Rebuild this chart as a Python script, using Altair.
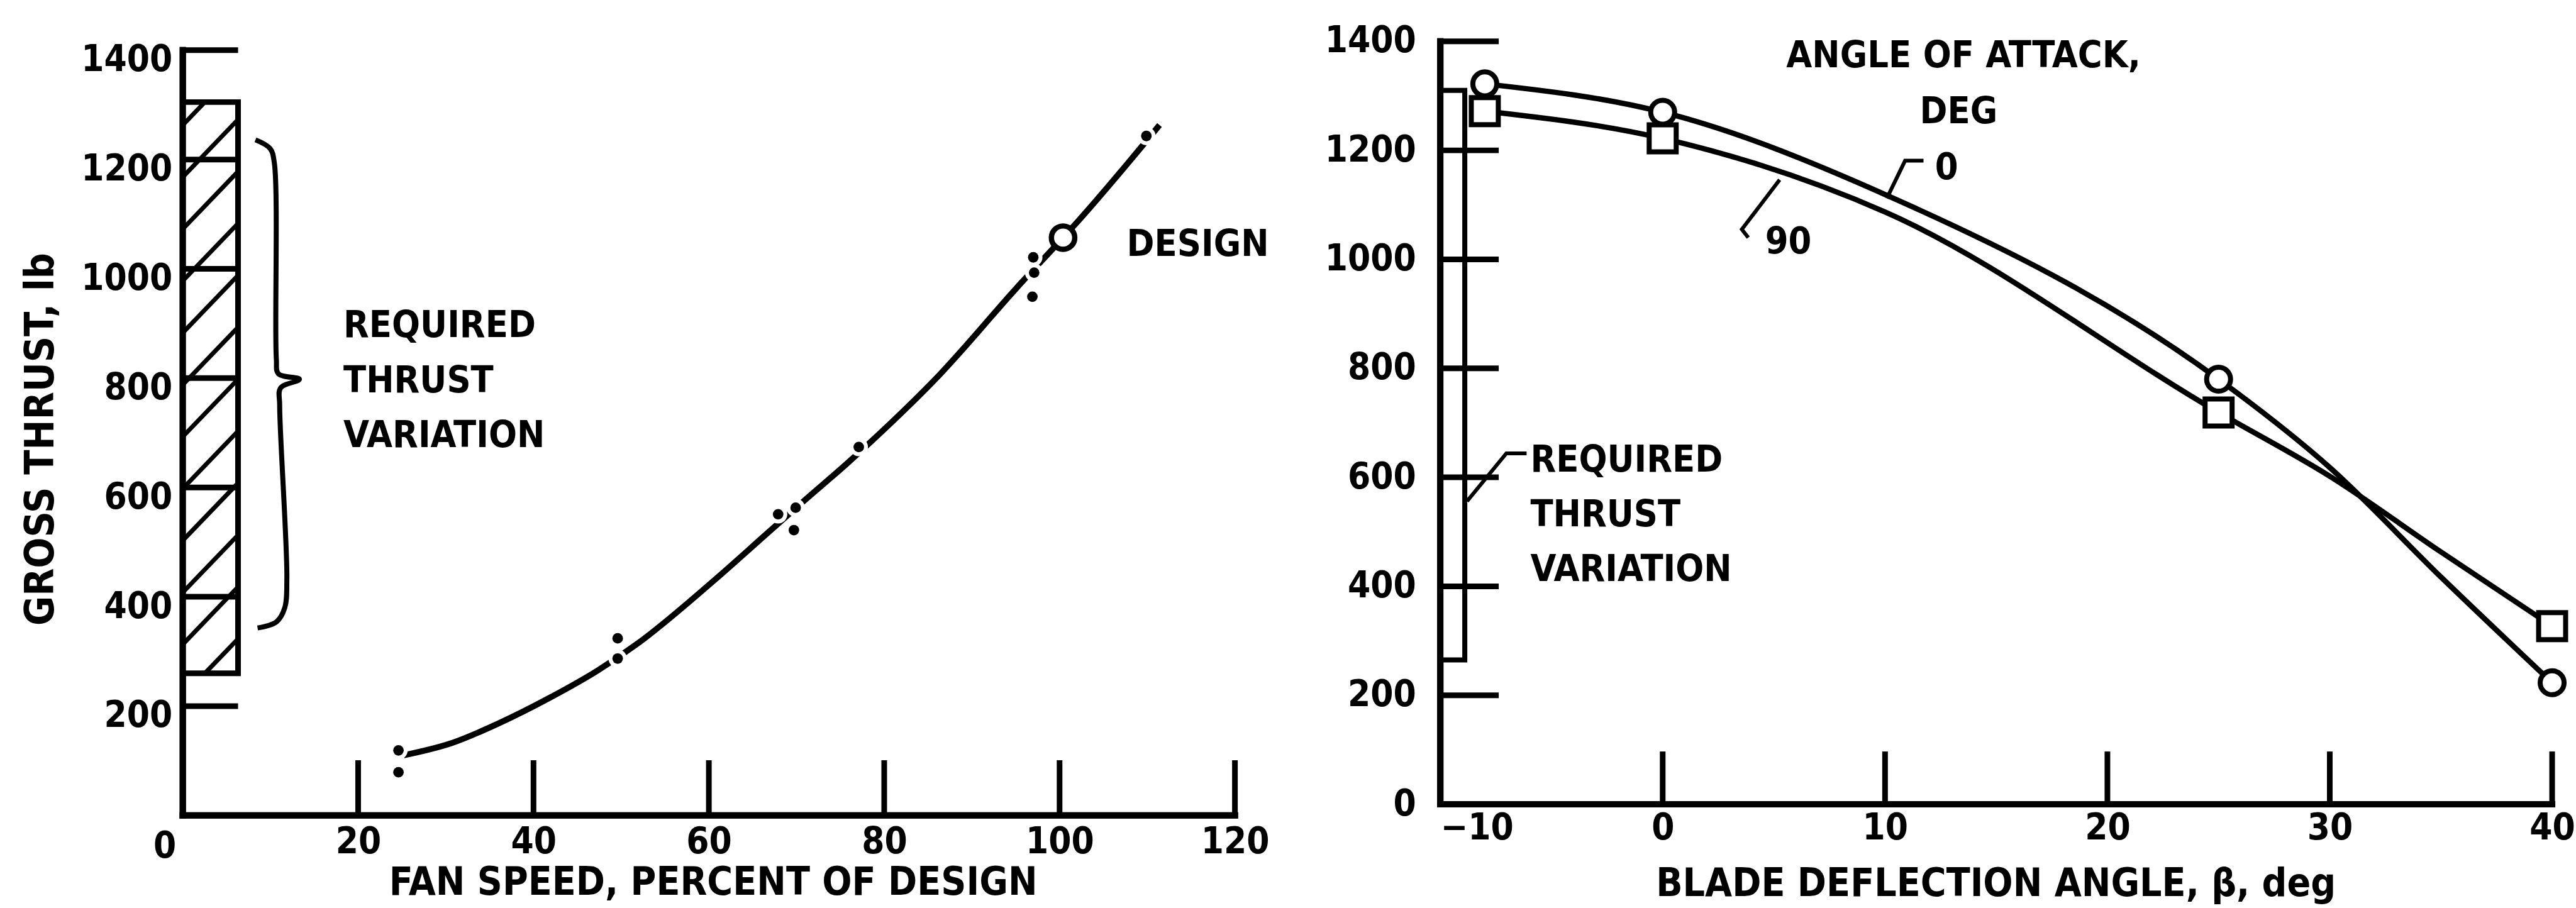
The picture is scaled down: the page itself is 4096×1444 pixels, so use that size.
import altair as alt
import pandas as pd

# ---------------------------------------------------------------
# Values
# ---------------------------------------------------------------
# Left panel: gross thrust (lb) against fan speed (percent of design)
speed_ticks = [20, 40, 60, 80, 100, 120]
thrust_ticks_left = [200, 400, 600, 800, 1000, 1200, 1400]

fit_speed = [25.2, 30.6, 36.1, 41.7, 47.3, 52.0, 60.6, 67.0, 71.1, 75.7,
             78.5, 86.3, 95.1, 100.4, 102.1, 111.4]
fit_thrust = [110, 132, 169, 214, 265, 316, 430, 521, 579, 643,
              684, 806, 965, 1057, 1087, 1263]

test_speed = [24.6, 24.6, 49.6, 49.6, 67.9, 69.9, 69.7, 77.1, 96.9, 97.1, 97.0, 109.9]
test_thrust = [79, 119, 287, 324, 551, 563, 522, 674, 949, 993, 1021, 1243]

design_speed = [100.4]
design_thrust = [1057]

required_left = [260, 1305]          # required thrust variation, lb

brace_speed = [8.29, 9.96, 10.44, 10.67, 10.9, 13.3, 11.15, 11.05, 11.87, 11.63, 10.67, 8.53]
brace_thrust = [1236, 1220, 1194, 835, 808, 798, 782, 750, 433, 380, 354, 343]

# Right panel: gross thrust (lb) against blade deflection angle (deg)
angle_ticks = [-10, 0, 10, 20, 30, 40]
thrust_ticks_right = [0, 200, 400, 600, 800, 1000, 1200, 1400]

symbol_angle = [-8, 0, 25, 40]
thrust_aoa0 = [1322, 1270, 780, 223]      # angle of attack 0 deg (circles)
thrust_aoa90 = [1272, 1222, 719, 327]     # angle of attack 90 deg (squares)

fair_angle = [-8, 0, 10, 25, 30, 35, 40]
fair_aoa0 = [1322, 1270, 1119, 780, 618, 417, 223]
fair_aoa90 = [1272, 1222, 1087, 719, 602, 463, 327]

required_right = [265, 1310]

# ---------------------------------------------------------------
# Layout and style
# ---------------------------------------------------------------
FONT = "DejaVu Sans Condensed, DejaVu Sans, sans-serif"
INK = "black"
TXT = 59
TITLE_TXT = 62
TICK_TXT = 58

WIN_W, WIN_H = 4096, 1444
PAD_L, PAD_T = 291, 64.5
LW, RW, H = 1675, 1770, 1232.5
GAP = 327
R_AXIS = 17.8        # right x-axis sits this far above the cell bottom

BAR_W_L = 6.3        # width of hatched band, percent-speed units
BAR_W_R = 1.1        # width of open band, degrees
HATCH_STEP, HATCH_RISE = 95, 105

lx = alt.Scale(domain=[0, 120], nice=False, zero=False)
ly = alt.Scale(domain=[0, 1416.1], nice=False, zero=False)
rx = alt.Scale(domain=[-10, 40], nice=False, zero=False)
ry = alt.Scale(domain=[-20.5, 1400], nice=False, zero=False)


# secondary layers leave the axis unspecified so the explicit axis
# defined on the axis-line layer is the one that gets drawn
def ex(s, field="x"):
    return alt.X(f"{field}:Q", scale=s)


def ey(s, field="y"):
    return alt.Y(f"{field}:Q", scale=s)


def text_layer(df, s_x, s_y, align, size=TXT):
    return alt.Chart(df).mark_text(
        align=align, baseline="middle", font=FONT, fontSize=size,
        fontWeight="bold", color=INK
    ).encode(x=ex(s_x), y=ey(s_y), text="t:N")


# ---------------------------------------------------------------
# Left panel
# ---------------------------------------------------------------
frame_l = alt.Chart(pd.DataFrame({"k": [0]})).mark_rect(opacity=0).encode(
    x=alt.value(-PAD_L), x2=alt.value(0),
    y=alt.value(-PAD_T), y2=alt.value(WIN_H - PAD_T))

axis_lines_l = pd.DataFrame({"x": [0, 0], "x2": [0, 120], "y": [0, 0], "y2": [1400, 0]})

axis_x_left = alt.Axis(
    values=speed_ticks, format="d", domain=False, ticks=False, tickSize=0, grid=False,
    labelPadding=14, labelFlush=False, labelOverlap=False, labelFontSize=TICK_TXT,
    title="FAN SPEED, PERCENT OF DESIGN", titleX=844, titleY=126,
    titleBaseline="alphabetic", titleAlign="center", titleFontSize=TITLE_TXT)
axis_y_left = alt.Axis(
    values=thrust_ticks_left, format="d", domain=False, ticks=False, tickSize=0,
    grid=False, labelPadding=17, labelOffset=16, labelFlush=False, labelOverlap=False,
    labelFontSize=TICK_TXT,
    title="GROSS THRUST, lb", titleX=-206, titleY=633, titleAngle=270,
    titleBaseline="alphabetic", titleAlign="center", titleFontSize=64)

axes_l = alt.Chart(axis_lines_l).mark_rule(
    stroke=INK, strokeWidth=10, strokeCap="square").encode(
    x=alt.X("x:Q", scale=lx, axis=axis_x_left), x2="x2:Q",
    y=alt.Y("y:Q", scale=ly, axis=axis_y_left), y2="y2:Q")

band_l = alt.Chart(pd.DataFrame({
    "x": [0], "x2": [BAR_W_L], "y": [required_left[0]], "y2": [required_left[1]]
})).mark_rect(fill="white", stroke=INK, strokeWidth=9).encode(
    x=ex(lx), x2="x2:Q", y=ey(ly), y2="y2:Q")

# diagonal hatching clipped to the band
lo, hi = required_left
rows = []
for k in range(-2, 14):
    yl = 1263 - HATCH_STEP * k
    x0, y0, x1, y1 = 0.0, yl, BAR_W_L, yl + HATCH_RISE
    if y0 < lo:
        x0, y0 = (lo - yl) / HATCH_RISE * BAR_W_L, lo
    if y1 > hi:
        x1, y1 = (hi - yl) / HATCH_RISE * BAR_W_L, hi
    if x1 > x0 and y1 > y0:
        rows.append({"x": x0, "y": y0, "x2": x1, "y2": y1})
hatch_l = alt.Chart(pd.DataFrame(rows)).mark_rule(
    stroke=INK, strokeWidth=7).encode(x=ex(lx), x2="x2:Q", y=ey(ly), y2="y2:Q")

axes_top_l = alt.Chart(axis_lines_l).mark_rule(
    stroke=INK, strokeWidth=10, strokeCap="square").encode(
    x=ex(lx), x2="x2:Q", y=ey(ly), y2="y2:Q")

yticks_l = alt.Chart(pd.DataFrame({"y": thrust_ticks_left})).mark_rule(
    stroke=INK, strokeWidth=9).encode(y=ey(ly), x=alt.value(0), x2=alt.value(88))
xticks_l = alt.Chart(pd.DataFrame({"x": speed_ticks})).mark_rule(
    stroke=INK, strokeWidth=9).encode(x=ex(lx), y=alt.value(H), y2=alt.value(H - 88))

brace = alt.Chart(pd.DataFrame({
    "x": brace_speed, "y": brace_thrust, "i": list(range(len(brace_speed)))
})).mark_line(stroke=INK, strokeWidth=8, interpolate="catmull-rom").encode(
    x=ex(lx), y=ey(ly), order="i:Q")

curve_l = alt.Chart(pd.DataFrame({"x": fit_speed, "y": fit_thrust})).mark_line(
    stroke=INK, strokeWidth=9.5, interpolate="monotone").encode(x=ex(lx), y=ey(ly))

tests = pd.DataFrame({"x": test_speed, "y": test_thrust})
halo_l = alt.Chart(tests).mark_point(
    shape="circle", fill="white", stroke=None, fillOpacity=1, opacity=1, size=855
).encode(x=ex(lx), y=ey(ly))
dots_l = alt.Chart(tests).mark_point(
    shape="circle", fill=INK, stroke=None, fillOpacity=1, opacity=1, size=283
).encode(x=ex(lx), y=ey(ly))

design = alt.Chart(pd.DataFrame({"x": design_speed, "y": design_thrust})).mark_point(
    shape="circle", fill="white", fillOpacity=1, stroke=INK, strokeWidth=8.5,
    opacity=1, size=1385).encode(x=ex(lx), y=ey(ly))

notes_l = text_layer(pd.DataFrame({
    "x": [18.32, 18.32, 18.32, 107.66],
    "y": [896, 795, 695, 1044],
    "t": ["REQUIRED", "THRUST", "VARIATION", "DESIGN"]}), lx, ly, "left")
origin_l = text_layer(pd.DataFrame({"x": [-2.04], "y": [-58], "t": ["0"]}),
                      lx, ly, "center", TICK_TXT)

left = alt.layer(
    frame_l, axes_l, band_l, hatch_l, axes_top_l, yticks_l, xticks_l, brace,
    curve_l, halo_l, dots_l, design, notes_l, origin_l
).properties(width=LW, height=H)

# ---------------------------------------------------------------
# Right panel
# ---------------------------------------------------------------
frame_r = alt.Chart(pd.DataFrame({"k": [0]})).mark_rect(opacity=0).encode(
    x=alt.value(RW), x2=alt.value(WIN_W - PAD_L - LW - GAP),
    y=alt.value(-PAD_T), y2=alt.value(WIN_H - PAD_T))

axis_lines_r = pd.DataFrame({"x": [-10, -10], "x2": [-10, 40], "y": [0, 0], "y2": [1400, 0]})

axis_x_right = alt.Axis(
    values=angle_ticks, format="d", domain=False, ticks=False, tickSize=0, grid=False,
    offset=-R_AXIS, labelPadding=10, labelFlush=False, labelOverlap=False,
    labelFontSize=TICK_TXT,
    labelAlign={"condition": {"test": "datum.value === -10", "value": "left"},
                "value": "center"},
    title="BLADE DEFLECTION ANGLE, \u03b2, deg", titleX=884, titleY=146,
    titleBaseline="alphabetic", titleAlign="center", titleFontSize=TITLE_TXT)
axis_y_right = alt.Axis(
    values=thrust_ticks_right, format="d", domain=False, ticks=False, tickSize=0,
    grid=False, labelPadding=39, labelFlush=False, labelOverlap=False,
    labelFontSize=TICK_TXT, title="")

axes_r = alt.Chart(axis_lines_r).mark_rule(
    stroke=INK, strokeWidth=10, strokeCap="square").encode(
    x=alt.X("x:Q", scale=rx, axis=axis_x_right), x2="x2:Q",
    y=alt.Y("y:Q", scale=ry, axis=axis_y_right), y2="y2:Q")

band_r = alt.Chart(pd.DataFrame({
    "x": [-10], "x2": [-10 + BAR_W_R], "y": [required_right[0]], "y2": [required_right[1]]
})).mark_rect(fill="white", stroke=INK, strokeWidth=8).encode(
    x=ex(rx), x2="x2:Q", y=ey(ry), y2="y2:Q")

axes_top_r = alt.Chart(axis_lines_r).mark_rule(
    stroke=INK, strokeWidth=10, strokeCap="square").encode(
    x=ex(rx), x2="x2:Q", y=ey(ry), y2="y2:Q")

yticks_r = alt.Chart(pd.DataFrame({"y": thrust_ticks_right[1:]})).mark_rule(
    stroke=INK, strokeWidth=9).encode(y=ey(ry), x=alt.value(0), x2=alt.value(93))
xticks_r = alt.Chart(pd.DataFrame({"x": angle_ticks[1:]})).mark_rule(
    stroke=INK, strokeWidth=9).encode(
    x=ex(rx), y=alt.value(H - R_AXIS), y2=alt.value(H - R_AXIS - 84))

fair = pd.DataFrame({
    "x": fair_angle * 2,
    "y": fair_aoa0 + fair_aoa90,
    "s": ["0"] * len(fair_angle) + ["90"] * len(fair_angle)})
curves_r = alt.Chart(fair).mark_line(
    stroke=INK, strokeWidth=8.5, interpolate="monotone").encode(
    x=ex(rx), y=ey(ry), detail="s:N")

circles_r = alt.Chart(pd.DataFrame({"x": symbol_angle, "y": thrust_aoa0})).mark_point(
    shape="circle", fill="white", fillOpacity=1, stroke=INK, strokeWidth=8,
    opacity=1, size=1452).encode(x=ex(rx), y=ey(ry))
squares_r = alt.Chart(pd.DataFrame({"x": symbol_angle, "y": thrust_aoa90})).mark_point(
    shape="square", fill="white", fillOpacity=1, stroke=INK, strokeWidth=8,
    opacity=1, size=1849).encode(x=ex(rx), y=ey(ry))

leaders = alt.Chart(pd.DataFrame({
    "g": ["0"] * 3 + ["90"] * 3 + ["req"] * 3,
    "i": [0, 1, 2] * 3,
    "x": [11.73, 10.90, 10.08, 5.26, 3.56, 3.85, -6.12, -7.03, -8.8],
    "y": [1181, 1181, 1112, 1146, 1055, 1040, 644, 644, 556]
})).mark_line(stroke=INK, strokeWidth=6).encode(
    x=ex(rx), y=ey(ry), detail="g:N", order="i:Q")

legend_r = text_layer(pd.DataFrame({
    "x": [13.53, 13.31, 12.77, 5.65],
    "y": [1373, 1271, 1168, 1032],
    "t": ["ANGLE OF ATTACK,", "DEG", "0", "90"]}), rx, ry, "center")
notes_r = text_layer(pd.DataFrame({
    "x": [-5.95, -5.95, -5.95],
    "y": [631, 531, 430],
    "t": ["REQUIRED", "THRUST", "VARIATION"]}), rx, ry, "left")

right = alt.layer(
    frame_r, axes_r, band_r, axes_top_r, yticks_r, xticks_r, curves_r,
    circles_r, squares_r, leaders, legend_r, notes_r
).properties(width=RW, height=H)

chart = alt.hconcat(left, right, spacing=GAP, bounds="flush", padding=0).configure_view(
    stroke=None
).configure_axis(
    labelFont=FONT, labelFontWeight="bold", labelColor=INK,
    titleFont=FONT, titleFontWeight="bold", titleColor=INK
)

chart.save("out.html", embed_options={"renderer": "svg", "actions": False})
